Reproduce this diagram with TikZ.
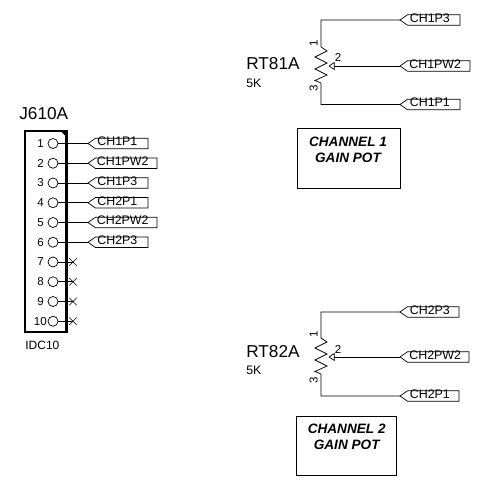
\documentclass[tikz,border=0pt]{standalone}
\usepackage{fontspec}
\setmainfont{Liberation Sans}
\usetikzlibrary{shapes.symbols, shapes.misc, arrows.meta, positioning, calc}

\begin{document}
\begin{tikzpicture}[x=1pt, y=-1pt, line width=0.7pt,
    % Define node styles for the connector, the ports and the texts.
    header/.style={
      rectangle, draw=black, line width=2.6pt, outer sep=0pt, inner sep=0pt,
      minimum width=41.5pt, minimum height=201pt
    },
    pincircle/.style={
      circle, draw=black, inner sep=0pt, outer sep=0pt, minimum size=10pt
    },
    pinnum/.style={inner sep=0pt, font=\fontsize{11.5}{13}\selectfont},
    nocon/.style={
      cross out, draw=black, inner sep=0pt, outer sep=0pt, minimum size=7.5pt
    },
    port/.style={
      signal, signal to=west, signal pointer angle=70, draw=black,
      inner sep=0pt, outer sep=0pt, anchor=west,
      minimum height=10.5pt, minimum width=#1
    },
    portlabel/.style={inner sep=0pt, yshift=2pt, font=\fontsize{12.4}{14}\selectfont},
    refdes/.style={inner sep=0pt, anchor=base west, font=\fontsize{17.2}{20}\selectfont},
    value/.style={inner sep=0pt, anchor=base west, font=\fontsize{12.3}{14}\selectfont},
    gainbox/.style={
      rectangle, draw=black, outer sep=0pt, minimum width=#1, minimum height=59.5pt
    },
    gaintext/.style={
      align=center, inner sep=0pt,
      font=\fontsize{13.6}{15.8}\selectfont\bfseries\itshape
    },
    wiper/.style={-{Triangle[open,length=6pt,width=8pt]}}
]
\useasboundingbox (0,0) rectangle (490,486);

% Connector J610A
\node [header] (j610a) at (45.75,231.5) {};
\fill (j610a.north east) ++(-6,0) -- ++(6,0) -- ++(0,6) -- cycle;
\node [refdes] (j610name) at (19,120) {J610A};
\node [value, font=\fontsize{12}{14}\selectfont] (j610type) at (25,349) {IDC10};

% Pins of the connector
\node [pincircle] (pin1) at (53,143.5) {};
\node [pincircle, below=9.75pt of pin1] (pin2) {};
\node [pincircle, below=9.75pt of pin2] (pin3) {};
\node [pincircle, below=9.75pt of pin3] (pin4) {};
\node [pincircle, below=9.75pt of pin4] (pin5) {};
\node [pincircle, below=9.75pt of pin5] (pin6) {};
\node [pincircle, below=9.75pt of pin6] (pin7) {};
\node [pincircle, below=9.75pt of pin7] (pin8) {};
\node [pincircle, below=9.75pt of pin8] (pin9) {};
\node [pincircle, below=9.75pt of pin9] (pin10) {};

\node [pinnum, left=4pt of pin1] (num1) {1};
\node [pinnum, left=4pt of pin2] (num2) {2};
\node [pinnum, left=4pt of pin3] (num3) {3};
\node [pinnum, left=4pt of pin4] (num4) {4};
\node [pinnum, left=4pt of pin5] (num5) {5};
\node [pinnum, left=4pt of pin6] (num6) {6};
\node [pinnum, left=4pt of pin7] (num7) {7};
\node [pinnum, left=4pt of pin8] (num8) {8};
\node [pinnum, left=4pt of pin9] (num9) {9};
\node [pinnum, left=1pt of pin10] (num10) {10};

% Ports of the connector
\node [port=60pt, right=30pt of pin1] (jch1p1) {};
\node [port=69pt, right=30pt of pin2] (jch1pw2) {};
\node [port=60pt, right=30pt of pin3] (jch1p3) {};
\node [port=60pt, right=30pt of pin4] (jch2p1) {};
\node [port=69pt, right=30pt of pin5] (jch2pw2) {};
\node [port=60pt, right=30pt of pin6] (jch2p3) {};

\node [portlabel, right=9pt of jch1p1.west] (tjch1p1) {CH1P1};
\node [portlabel, right=8.5pt of jch1pw2.west] (tjch1pw2) {CH1PW2};
\node [portlabel, right=9pt of jch1p3.west] (tjch1p3) {CH1P3};
\node [portlabel, right=9pt of jch2p1.west] (tjch2p1) {CH2P1};
\node [portlabel, right=8.5pt of jch2pw2.west] (tjch2pw2) {CH2PW2};
\node [portlabel, right=9pt of jch2p3.west] (tjch2p3) {CH2P3};

% Unconnected pins
\node [nocon, right=11.25pt of pin7] (nc7) {};
\node [nocon, right=11.25pt of pin8] (nc8) {};
\node [nocon, right=11.25pt of pin9] (nc9) {};
\node [nocon, right=11.25pt of pin10] (nc10) {};

% Wires of the connector
\draw (pin1) -- (jch1p1.west);
\draw (pin2) -- (jch1pw2.west);
\draw (pin3) -- (jch1p3.west);
\draw (pin4) -- (jch2p1.west);
\draw (pin5) -- (jch2pw2.west);
\draw (pin6) -- (jch2p3.west);
\draw (pin7) -- (nc7.center);
\draw (pin8) -- (nc8.center);
\draw (pin9) -- (nc9.center);
\draw (pin10) -- (nc10.center);

% Pot RT81A
\node [refdes] (rt81name) at (246,70) {RT81A};
\node [value] (rt81val) at (246,88) {5K};
\coordinate (rt81top) at (321,47);
\coordinate (rt81bot) at (321,83);
\coordinate (rt81wip) at (328.5,66);
\node [port=60pt] (ch1p3) at (400,20) {};
\node [port=70pt] (ch1pw2) at (400,66) {};
\node [port=60pt] (ch1p1) at (400,104.5) {};
\node [portlabel, right=9.5pt of ch1p3.west] (tch1p3) {CH1P3};
\node [portlabel, right=9pt of ch1pw2.west] (tch1pw2) {CH1PW2};
\node [portlabel, right=9.5pt of ch1p1.west] (tch1p1) {CH1P1};
\node [pinnum, rotate=90, anchor=south] (rt81a) at (318,43) {1};
\node [pinnum, rotate=90, anchor=south] (rt81c) at (318,88) {3};
\node [pinnum] (rt81b) at (338,57) {2};

\draw (ch1p3.west) -| (rt81top)
  -- ++(6,4) -- ++(-12,6) -- ++(12,6) -- ++(-12,6) -- ++(12,6) -- ++(-12,5.5) -- (rt81bot)
  |- (ch1p1.west);
\draw [wiper] (ch1pw2.west) -- (rt81wip);

\node [gainbox=103pt] (gain1) at (348.5,158.5) {};
\node [gaintext] (gain1text) at (348,150) {CHANNEL 1\\GAIN POT};

% Pot RT82A
\node [refdes] (rt82name) at (246,357) {RT82A};
\node [value] (rt82val) at (246,374) {5K};
\coordinate (rt82top) at (321,338);
\coordinate (rt82bot) at (321,374);
\coordinate (rt82wip) at (328.5,357);
\node [port=59pt] (ch2p3) at (400,312) {};
\node [port=69pt] (ch2pw2) at (400,357) {};
\node [port=59pt] (ch2p1) at (400,396) {};
\node [portlabel, right=9.5pt of ch2p3.west] (tch2p3) {CH2P3};
\node [portlabel, right=9pt of ch2pw2.west] (tch2pw2) {CH2PW2};
\node [portlabel, right=9.5pt of ch2p1.west] (tch2p1) {CH2P1};
\node [pinnum, rotate=90, anchor=south] (rt82a) at (318,334) {1};
\node [pinnum, rotate=90, anchor=south] (rt82c) at (318,380) {3};
\node [pinnum] (rt82b) at (338,349.5) {2};

\draw (ch2p3.west) -| (rt82top)
  -- ++(6,4) -- ++(-12,6) -- ++(12,6) -- ++(-12,6) -- ++(12,6) -- ++(-12,5.5) -- (rt82bot)
  |- (ch2p1.west);
\draw [wiper] (ch2pw2.west) -- (rt82wip);

\node [gainbox=100pt] (gain2) at (346,446) {};
\node [gaintext] (gain2text) at (346.7,437) {CHANNEL 2\\GAIN POT};

\end{tikzpicture}
\end{document}
